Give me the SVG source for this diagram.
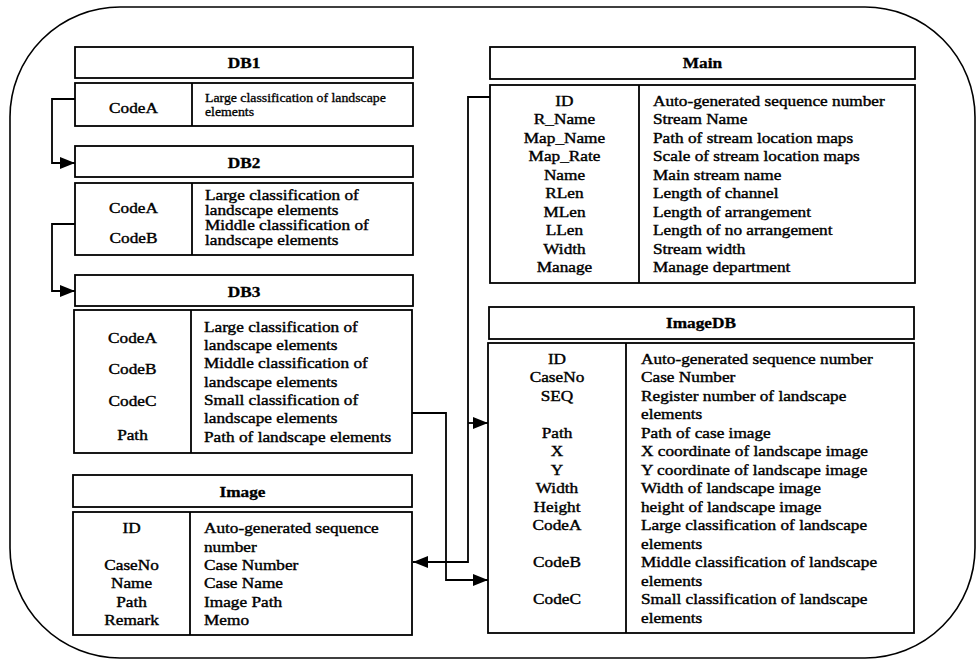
<svg xmlns="http://www.w3.org/2000/svg" width="977" height="660" viewBox="0 0 977 660">
  <style>
    .frame { fill: none; stroke: #000; stroke-width: 1.6; }
    .box { fill: #fff; stroke: #000; stroke-width: 1.8; }
    .div { stroke: #000; stroke-width: 1.8; }
    .wire { fill: none; stroke: #000; stroke-width: 1.8; }
    text { font-family: "Liberation Serif", "Times New Roman", serif; font-size: 15px; fill: #000; stroke: #000; stroke-width: 0.4; }
    .title { font-weight: bold; text-anchor: middle; stroke-width: 0.3; }
    .name { text-anchor: middle; }
    .small { font-size: 12px; stroke-width: 0.3; }
  </style>
  <defs>
    <marker id="arrow" viewBox="0 0 15 12" refX="15" refY="6" markerWidth="15" markerHeight="12" markerUnits="userSpaceOnUse" orient="auto">
      <path d="M0,0 L15,6 L0,12 Z" fill="#000"/>
    </marker>
  </defs>

  <rect width="977" height="660" fill="#fff"/>

  <!-- rounded outer frame -->
  <path class="frame" d="M120,7 H865 A110,110 0 0 1 975,117 V548 A110,110 0 0 1 865,658 H120 A110,110 0 0 1 10,548 V117 A110,110 0 0 1 120,7 Z"/>

  <!-- DB1 -->
  <g id="db1">
    <rect class="box" x="75" y="47" width="338" height="31"/>
    <rect class="box" x="75" y="83" width="338" height="43"/>
    <line class="div" x1="192" y1="83" x2="192" y2="126"/>
    <g transform="matrix(1.15 0 0 1 -36.6 0)"><text class="title" x="244" y="68">DB1</text></g>
    <g transform="matrix(1.15 0 0 1 -20 0)"><text class="name" x="133.5" y="113">CodeA</text></g>
    <g transform="matrix(1.15 0 0 1 -30.75 0)">
      <text class="small" x="205" y="102">Large classification of  landscape</text>
      <text class="small" x="205" y="116">elements</text>
    </g>
  </g>

  <!-- DB2 -->
  <g id="db2">
    <rect class="box" x="75" y="146" width="338" height="31"/>
    <rect class="box" x="75" y="183" width="338" height="72"/>
    <line class="div" x1="192" y1="183" x2="192" y2="255"/>
    <g transform="matrix(1.15 0 0 1 -36.6 0)"><text class="title" x="244" y="168">DB2</text></g>
    <g transform="matrix(1.15 0 0 1 -20 0)">
      <text class="name" x="133.5" y="213">CodeA</text>
      <text class="name" x="133.5" y="243">CodeB</text>
    </g>
    <g transform="matrix(1.15 0 0 1 -30.75 0)">
      <text x="205" y="200">Large classification of</text>
      <text x="205" y="215">landscape elements</text>
      <text x="205" y="230">Middle classification of</text>
      <text x="205" y="245">landscape elements</text>
    </g>
  </g>

  <!-- DB3 -->
  <g id="db3">
    <rect class="box" x="75" y="275" width="338" height="31"/>
    <rect class="box" x="74" y="310" width="338" height="143"/>
    <line class="div" x1="191" y1="310" x2="191" y2="453"/>
    <g transform="matrix(1.15 0 0 1 -36.6 0)"><text class="title" x="244" y="297">DB3</text></g>
    <g transform="matrix(1.15 0 0 1 -19.9 0)">
      <text class="name" x="132.5" y="343">CodeA</text>
      <text class="name" x="132.5" y="374">CodeB</text>
      <text class="name" x="132.5" y="406">CodeC</text>
      <text class="name" x="132.5" y="440">Path</text>
    </g>
    <g transform="matrix(1.15 0 0 1 -30.6 0)">
      <text x="204" y="332">Large classification of</text>
      <text x="204" y="350">landscape elements</text>
      <text x="204" y="368.5">Middle classification of</text>
      <text x="204" y="387">landscape elements</text>
      <text x="204" y="405">Small classification of</text>
      <text x="204" y="423">landscape elements</text>
      <text x="204" y="442">Path of landscape elements</text>
    </g>
  </g>

  <!-- Image -->
  <g id="image">
    <rect class="box" x="73" y="475" width="339" height="32"/>
    <rect class="box" x="73" y="512" width="339" height="123"/>
    <line class="div" x1="190" y1="512" x2="190" y2="635"/>
    <g transform="matrix(1.15 0 0 1 -36.4 0)"><text class="title" x="242.5" y="497">Image</text></g>
    <g transform="matrix(1.15 0 0 1 -19.7 0)">
      <text class="name" x="131.5" y="533">ID</text>
      <text class="name" x="131.5" y="570">CaseNo</text>
      <text class="name" x="131.5" y="588">Name</text>
      <text class="name" x="131.5" y="607">Path</text>
      <text class="name" x="131.5" y="625">Remark</text>
    </g>
    <g transform="matrix(1.15 0 0 1 -30.6 0)">
      <text x="204" y="533">Auto-generated sequence</text>
      <text x="204" y="552">number</text>
      <text x="204" y="570">Case Number</text>
      <text x="204" y="588">Case Name</text>
      <text x="204" y="607">Image Path</text>
      <text x="204" y="625">Memo</text>
    </g>
  </g>

  <!-- Main -->
  <g id="main">
    <rect class="box" x="490" y="47" width="425" height="32"/>
    <rect class="box" x="490" y="85" width="425" height="198"/>
    <line class="div" x1="639" y1="85" x2="639" y2="283"/>
    <g transform="matrix(1.15 0 0 1 -105.4 0)"><text class="title" x="702.5" y="68">Main</text></g>
    <g transform="matrix(1.15 0 0 1 -84.7 0)">
      <text class="name" x="564.5" y="106">ID</text>
      <text class="name" x="564.5" y="124.5">R_Name</text>
      <text class="name" x="564.5" y="143">Map_Name</text>
      <text class="name" x="564.5" y="161.5">Map_Rate</text>
      <text class="name" x="564.5" y="180">Name</text>
      <text class="name" x="564.5" y="198.5">RLen</text>
      <text class="name" x="564.5" y="217">MLen</text>
      <text class="name" x="564.5" y="235.5">LLen</text>
      <text class="name" x="564.5" y="254">Width</text>
      <text class="name" x="564.5" y="272.5">Manage</text>
    </g>
    <g transform="matrix(1.15 0 0 1 -97.95 0)">
      <text x="653" y="106">Auto-generated sequence number</text>
      <text x="653" y="124.5">Stream Name</text>
      <text x="653" y="143">Path of stream location maps</text>
      <text x="653" y="161.5">Scale of stream location maps</text>
      <text x="653" y="180">Main stream name</text>
      <text x="653" y="198.5">Length of channel</text>
      <text x="653" y="217">Length of arrangement</text>
      <text x="653" y="235.5">Length of no arrangement</text>
      <text x="653" y="254">Stream width</text>
      <text x="653" y="272.5">Manage department</text>
    </g>
  </g>

  <!-- ImageDB -->
  <g id="imagedb">
    <rect class="box" x="489" y="307" width="425" height="32"/>
    <rect class="box" x="488" y="343" width="426" height="290"/>
    <line class="div" x1="626" y1="343" x2="626" y2="633"/>
    <g transform="matrix(1.15 0 0 1 -105.15 0)"><text class="title" x="701" y="328">ImageDB</text></g>
    <g transform="matrix(1.15 0 0 1 -83.55 0)">
      <text class="name" x="557" y="364">ID</text>
      <text class="name" x="557" y="382.5">CaseNo</text>
      <text class="name" x="557" y="401">SEQ</text>
      <text class="name" x="557" y="438">Path</text>
      <text class="name" x="557" y="456.5">X</text>
      <text class="name" x="557" y="475">Y</text>
      <text class="name" x="557" y="493.5">Width</text>
      <text class="name" x="557" y="512">Height</text>
      <text class="name" x="557" y="530.5">CodeA</text>
      <text class="name" x="557" y="567.5">CodeB</text>
      <text class="name" x="557" y="604.5">CodeC</text>
    </g>
    <g transform="matrix(1.15 0 0 1 -96.15 0)">
      <text x="641" y="364">Auto-generated sequence  number</text>
      <text x="641" y="382.5">Case Number</text>
      <text x="641" y="401">Register number of  landscape</text>
      <text x="641" y="419.5">elements</text>
      <text x="641" y="438">Path of case image</text>
      <text x="641" y="456.5">X coordinate of landscape image</text>
      <text x="641" y="475">Y coordinate of landscape image</text>
      <text x="641" y="493.5">Width of landscape image</text>
      <text x="641" y="512">height of landscape image</text>
      <text x="641" y="530.5">Large classification of  landscape</text>
      <text x="641" y="549">elements</text>
      <text x="641" y="567.5">Middle classification of landscape</text>
      <text x="641" y="586">elements</text>
      <text x="641" y="604.5">Small classification of landscape</text>
      <text x="641" y="623">elements</text>
    </g>
  </g>

  <!-- connectors -->
  <g id="connectors">
    <path class="wire" d="M75,99 H52 V163 H75" marker-end="url(#arrow)"/>
    <path class="wire" d="M75,224 H52 V291 H75" marker-end="url(#arrow)"/>
    <path class="wire" d="M412,413 H446 V580 H488" marker-end="url(#arrow)"/>
    <path class="wire" d="M490,97 H468 V562 H413" marker-end="url(#arrow)"/>
    <path class="wire" d="M468,423 H488" marker-end="url(#arrow)"/>
  </g>
</svg>
